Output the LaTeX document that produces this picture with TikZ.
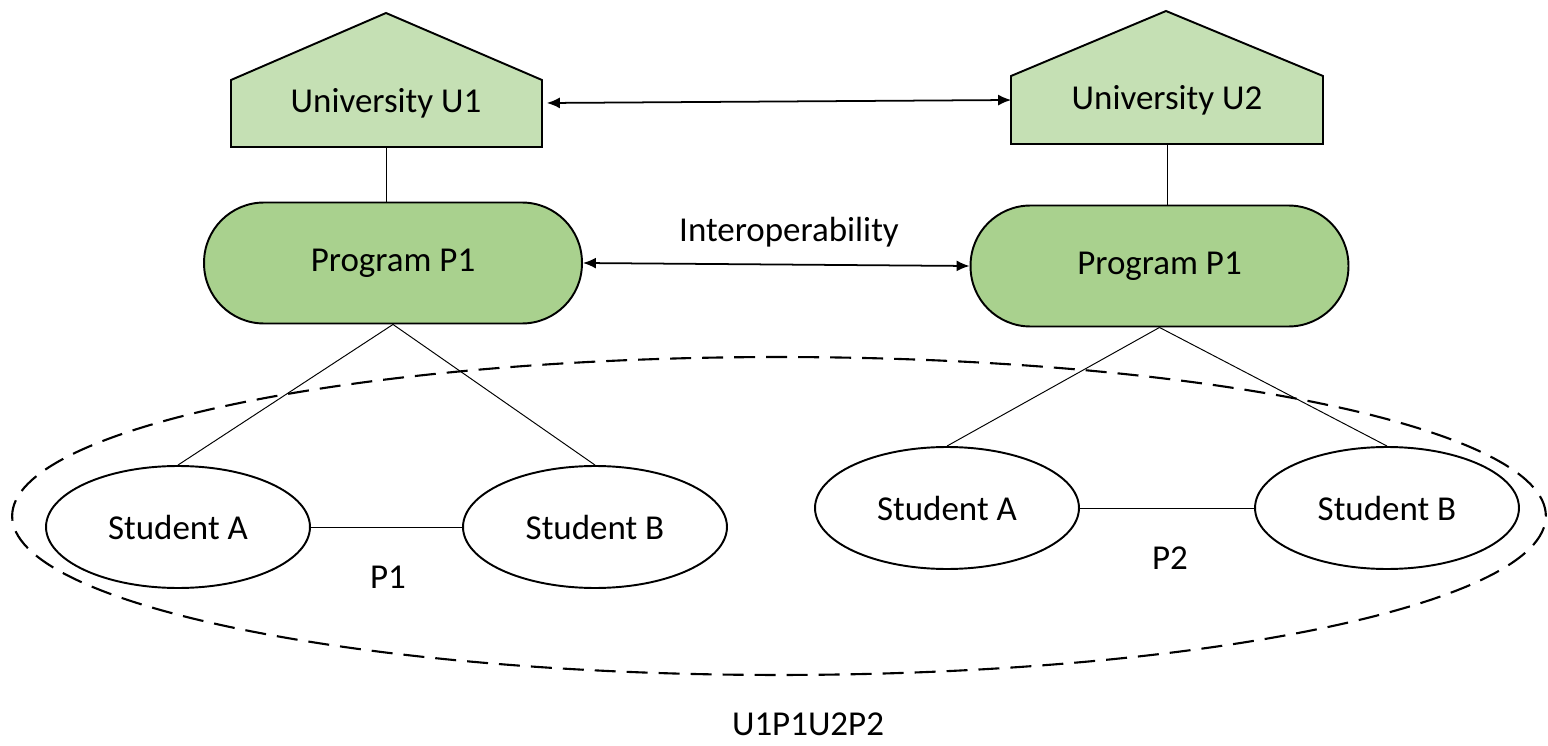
\documentclass[tikz,border=0pt]{standalone}
\usepackage{fontspec}
\setmainfont{Carlito}
\usepackage{xcolor}
\usepackage{tikz}
\usetikzlibrary{arrows.meta,calc,shapes.geometric}

\definecolor{uniGreen}{HTML}{C5E0B4}
\definecolor{progGreen}{HTML}{A9D18E}

\begin{document}
\begin{tikzpicture}[>=Latex,x=0.02cm,y=-0.02cm,
    every node/.style={font=\fontsize{19.9}{24}\selectfont},
    house/.style={fill=uniGreen,draw=black,line width=1.1pt,line join=miter},
    unibox/.style={minimum width=6.22cm,minimum height=1.76cm,inner sep=0pt},
    progbox/.style={draw=black,fill=progGreen,line width=1.1pt,rounded corners=1.2cm,minimum width=7.56cm,minimum height=2.42cm},
    student/.style={ellipse,draw=black,fill=white,line width=1.1pt,minimum width=5.28cm,minimum height=2.44cm,inner sep=0pt},
    ring/.style={ellipse,draw=black,line width=1.2pt,dash pattern=on 0.42cm off 0.22cm,minimum width=30.68cm,minimum height=6.36cm},
    link/.style={line width=0.55pt},
    both/.style={line width=1pt,{Latex[length=2.6mm,width=2.2mm]}-{Latex[length=2.6mm,width=2.2mm]}}]
    \useasboundingbox (0,0) rectangle (1548,746);

    % group of students
    \node[ring] (grp) at (779,516) {};
    \node (grpLbl) at (808,724) {U1P1U2P2};

    % universities
    \filldraw[house] (231,80) -- (386,13) -- (542,80) -- (542,147) -- (231,147) -- cycle;
    \filldraw[house] (1011,76) -- (1166,11) -- (1323,76) -- (1323,144) -- (1011,144) -- cycle;
    \node[unibox] (U1) at (386,103) {University U1};
    \node[unibox] (U2) at (1167,100) {University U2};
    \draw[both] ([xshift=1mm]U1.east) -- (U2.west);

    % programs
    \node[progbox] (P1) at (393,263) {Program P1};
    \node[progbox] (P2) at (1159.5,266) {Program P1};
    \draw[both] (P1.east) -- (P2.west);
    \node (interop) at (789,232) {Interoperability};
    \draw[link] (U1.south) -- (U1.south |- P1.north);
    \draw[link] (U2.south) -- (U2.south |- P2.north);

    % students
    \node[student] (SA1) at (178,527) {Student A};
    \node[student] (SB1) at (595,527) {Student B};
    \node[student] (SA2) at (947,508) {Student A};
    \node[student] (SB2) at (1387,508) {Student B};
    \draw[link] (P1.south) -- (SA1.north);
    \draw[link] (P1.south) -- (SB1.north);
    \draw[link] (SA1.east) -- (SB1.west);
    \draw[link] (P2.south) -- (SA2.north);
    \draw[link] (P2.south) -- (SB2.north);
    \draw[link] (SA2.east) -- (SB2.west);
    \node (lblP1) at (388,577) {P1};
    \node (lblP2) at (1170,558) {P2};
\end{tikzpicture}
\end{document}
